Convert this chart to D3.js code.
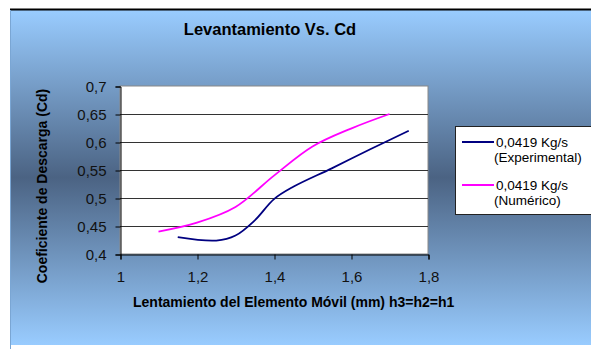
<!DOCTYPE html>
<html><head><meta charset="utf-8">
<script src="https://cdn.jsdelivr.net/npm/d3@7"></script>
<style>body{margin:0;background:#fff}svg{display:block}text{font-family:"Liberation Sans",Arial,sans-serif}</style>
</head><body>
<svg id="c" width="591" height="349"></svg>
<script>
const title = "Levantamiento Vs. Cd";
const xTitle = "Lentamiento del Elemento Móvil (mm) h3=h2=h1";
const yTitle = "Coeficiente de Descarga (Cd)";
const xTicks = [1, 1.2, 1.4, 1.6, 1.8];
const yTicks = [0.4, 0.45, 0.5, 0.55, 0.6, 0.65, 0.7];
const expX = [1.15, 1.25, 1.30, 1.35, 1.40, 1.45, 1.55, 1.65, 1.75];
const expY = [0.430, 0.424, 0.433, 0.460, 0.498, 0.520, 0.553, 0.587, 0.620];
const numX = [1.10, 1.20, 1.30, 1.40, 1.50, 1.60, 1.70];
const numY = [0.440, 0.456, 0.484, 0.540, 0.592, 0.624, 0.650];
const seriesNames = [["0,0419 Kg/s", "(Experimental)"], ["0,0419 Kg/s", "(Numérico)"]];
const colors = ["#000080", "#ff00ff"];

const svg = d3.select("#c");
const defs = svg.append("defs");
const g = defs.append("linearGradient").attr("id","bg").attr("x1",0).attr("y1",0).attr("x2",0).attr("y2",1);
g.append("stop").attr("offset","0%").attr("stop-color","#99ccff");
g.append("stop").attr("offset","50%").attr("stop-color","#4b6383");
g.append("stop").attr("offset","100%").attr("stop-color","#99ccff");

svg.append("rect").attr("x",10).attr("y",10).attr("width",600).attr("height",335).attr("fill","url(#bg)");
svg.append("line").attr("x1",10).attr("x2",591).attr("y1",9.5).attr("y2",9.5).attr("stroke","#000").attr("stroke-width",2);
svg.append("line").attr("x1",10.5).attr("x2",10.5).attr("y1",10).attr("y2",349).attr("stroke","#7aa6d4").attr("stroke-width",1);

const x = d3.scaleLinear().domain([1, 1.8]).range([120, 428]);
const y = d3.scaleLinear().domain([0.4, 0.7]).range([254, 86]);

svg.append("rect").attr("x",120).attr("y",86).attr("width",308).attr("height",168).attr("fill","#fff").attr("stroke","#888").attr("stroke-width",1);

svg.append("g").selectAll("line").data(yTicks.slice(1,-1)).join("line")
  .attr("x1",120).attr("x2",428).attr("y1",d=>Math.round(y(d))+0.5).attr("y2",d=>Math.round(y(d))+0.5)
  .attr("stroke","#333").attr("stroke-width",1);

const fmt = d=>String(d).replace(".",",");
const yAxis = svg.append("g").attr("transform","translate(120.5,0.5)")
  .call(d3.axisLeft(y).tickValues(yTicks).tickSize(5).tickPadding(9).tickFormat(fmt));
const xAxis = svg.append("g").attr("transform","translate(0.5,254.5)")
  .call(d3.axisBottom(x).tickValues(xTicks).tickSize(5).tickPadding(12).tickFormat(fmt));
[yAxis,xAxis].forEach(a=>{
  a.select(".domain").attr("stroke","#000");
  a.selectAll(".tick line").attr("stroke","#000");
  a.selectAll("text").attr("font-size",15).attr("fill","#111").style("font-family","'Liberation Sans',Arial,sans-serif");
});

const line = d3.line().x(d=>x(d[0])).y(d=>y(d[1])).curve(d3.curveCatmullRom.alpha(0.5));
svg.append("path").datum(expX.map((v,i)=>[v,expY[i]])).attr("d",line).attr("fill","none").attr("stroke",colors[0]).attr("stroke-width",1.8);
svg.append("path").datum(numX.map((v,i)=>[v,numY[i]])).attr("d",line).attr("fill","none").attr("stroke",colors[1]).attr("stroke-width",1.8);

svg.append("text").attr("x",270).attr("y",35).attr("text-anchor","middle").attr("font-size",16.5).attr("font-weight","bold").attr("fill","#000").text(title);
svg.append("text").attr("x",133).attr("y",307).attr("font-size",14).attr("font-weight","bold").attr("fill","#000").text(xTitle);
svg.append("text").attr("transform","translate(47,186) rotate(-90)").attr("text-anchor","middle").attr("font-size",14).attr("font-weight","bold").attr("fill","#000").text(yTitle);

const lg = svg.append("g");
lg.append("rect").attr("x",455.5).attr("y",126.5).attr("width",150).attr("height",88).attr("fill","#fff").attr("stroke","#222");
seriesNames.forEach((n,i)=>{
  const yy = 142 + i*43;
  lg.append("line").attr("x1",462).attr("x2",494).attr("y1",yy).attr("y2",yy).attr("stroke",colors[i]).attr("stroke-width",2);
  lg.append("text").attr("x",496).attr("y",yy+5).attr("font-size",13.5).attr("fill","#000").text(n[0]);
  lg.append("text").attr("x",494).attr("y",yy+20).attr("font-size",13.5).attr("fill","#000").text(n[1]);
});
</script>
</body></html>
